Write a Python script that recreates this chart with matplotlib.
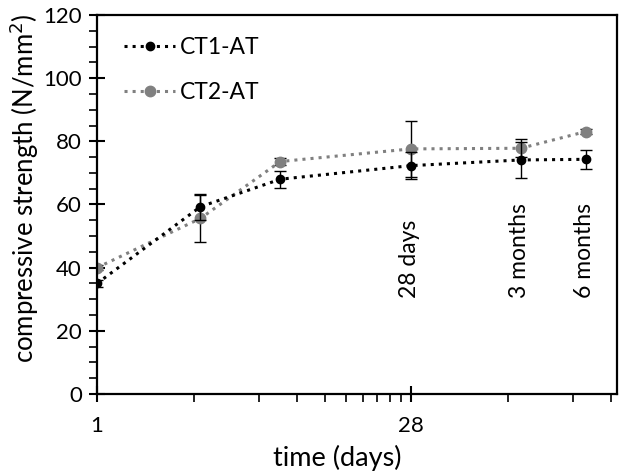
import numpy as np
import matplotlib.pyplot as plt
from matplotlib.ticker import FixedLocator, NullFormatter

# data
days = [1, 3, 7, 28, 90, 180]
ct1 = [35.0, 59.3, 68.0, 72.3, 74.1, 74.3]
ct1_err = [1.0, 4.1, 2.7, 4.3, 5.6, 3.1]
ct2 = [40.0, 55.6, 73.6, 77.6, 77.8, 83.1]
ct2_err = [0.8, 7.5, 1.0, 8.8, 2.8, 0.8]
ann_days = [28, 90, 180]
ann_text = ["28 days", "3 months", "6 months"]

plt.rcParams["font.family"] = ["Lato", "DejaVu Sans"]

fig = plt.figure(figsize=(6.26, 4.71), dpi=100)
ax = fig.add_axes([0.155, 0.1635, 0.8306, 0.8047])

ax.errorbar(days, ct1, yerr=ct1_err, fmt="o", color="black", ms=6,
            ecolor="black", elinewidth=1, capsize=4, capthick=1, zorder=3)
ax.errorbar(days, ct2, yerr=ct2_err, fmt="o", color="#808080", ms=7.5,
            ecolor="black", elinewidth=1, capsize=4, capthick=1, zorder=2)
ax.plot(days, ct1, ":", color="black", lw=2.2, zorder=3)
ax.plot(days, ct2, ":", color="#808080", lw=2.2, zorder=2)

# legend handles
h1, = ax.plot([], [], ":", color="black", lw=2.2, marker="o", ms=6)
h2, = ax.plot([], [], ":", color="#808080", lw=2.2, marker="o", ms=7.5)
ax.legend([h1, h2], ["CT1-AT", "CT2-AT"], loc="upper left", frameon=False,
          fontsize=16.5, handlelength=2.2, handletextpad=0.2, labelspacing=1.05,
          borderaxespad=0, bbox_to_anchor=(0.035, 0.967))

for d, t in zip(ann_days, ann_text):
    ax.text(d * 0.985, 30.5, t, rotation=90, ha="center", va="bottom", fontsize=16.5)

ax.set_xscale("log")
ax.set_xlim(1, 250)
ax.set_ylim(0, 120)
ax.xaxis.set_major_locator(FixedLocator([1, 28]))
ax.xaxis.set_minor_locator(FixedLocator([2.8 * k for k in range(1, 10)] + [78.4, 156.8, 235.2]))
ax.xaxis.set_minor_formatter(NullFormatter())
ax.set_xticklabels(["1", "28"])
ax.set_yticks(np.arange(0, 121, 20))
ax.set_yticks(np.arange(0, 121, 5), minor=True)

ax.tick_params(axis="both", which="major", direction="inout", length=12, width=1.5,
               labelsize=16, colors="black", pad=5)
ax.tick_params(axis="both", which="minor", direction="out", length=6, width=1.2)
ax.tick_params(axis="x", which="major", pad=10)
for s in ax.spines.values():
    s.set_linewidth(1.6)

ax.set_xlabel("time (days)", fontsize=19.5)
ax.set_ylabel("compressive strength (N/mm$^2$)", fontsize=18.5)
ax.xaxis.set_label_coords(0.4615, -0.133)
ax.yaxis.set_label_coords(-0.107, 0.5435)

fig.savefig("out.png", dpi=100)
